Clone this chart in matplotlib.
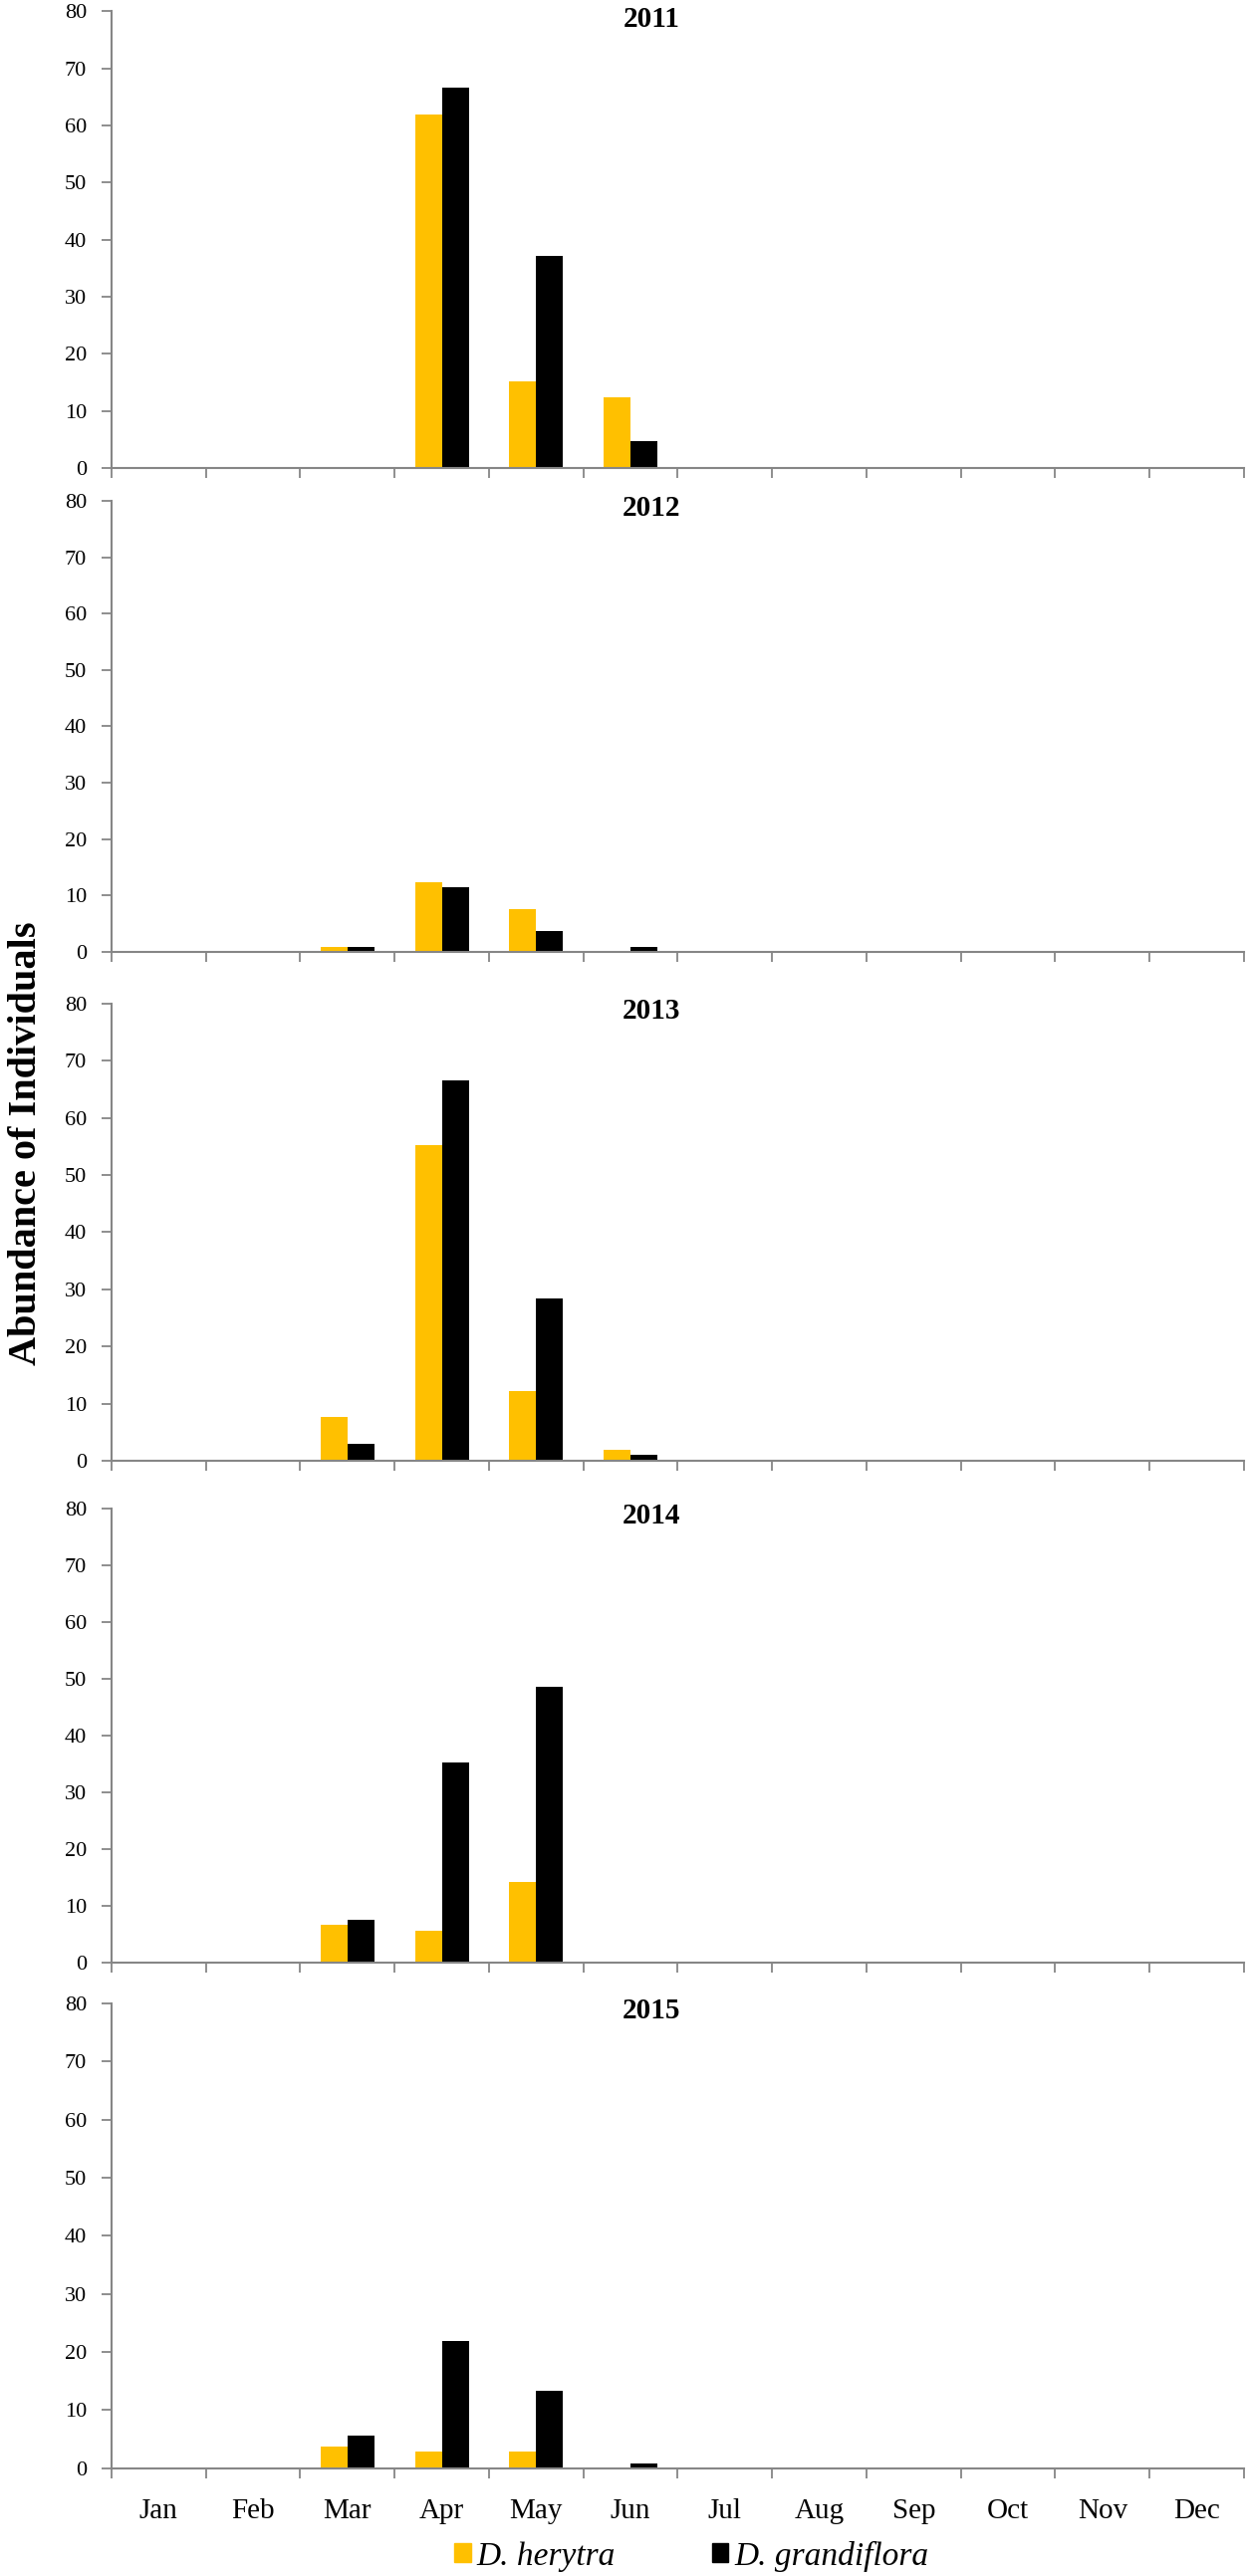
import matplotlib
matplotlib.use("Agg")
import matplotlib.pyplot as plt
from matplotlib.patches import Patch
import numpy as np

months = ['Jan', 'Feb', 'Mar', 'Apr', 'May', 'Jun',
          'Jul', 'Aug', 'Sep', 'Oct', 'Nov', 'Dec']
years = ['2011', '2012', '2013', '2014', '2015']

# D. herytra (yellow) per month, one list per year
herytra_2011 = [0, 0, 0, 62.0, 15.2, 12.4, 0, 0, 0, 0, 0, 0]
herytra_2012 = [0, 0, 0.8, 12.4, 7.5, 0, 0, 0, 0, 0, 0, 0]
herytra_2013 = [0, 0, 7.6, 55.3, 12.2, 1.9, 0, 0, 0, 0, 0, 0]
herytra_2014 = [0, 0, 6.7, 5.7, 14.3, 0, 0, 0, 0, 0, 0, 0]
herytra_2015 = [0, 0, 3.8, 2.9, 2.9, 0, 0, 0, 0, 0, 0, 0]

# D. grandiflora (black)
grandi_2011 = [0, 0, 0, 66.7, 37.2, 4.8, 0, 0, 0, 0, 0, 0]
grandi_2012 = [0, 0, 0.8, 11.4, 3.7, 0.8, 0, 0, 0, 0, 0, 0]
grandi_2013 = [0, 0, 2.9, 66.5, 28.5, 1.0, 0, 0, 0, 0, 0, 0]
grandi_2014 = [0, 0, 7.6, 35.3, 48.6, 0, 0, 0, 0, 0, 0, 0]
grandi_2015 = [0, 0, 5.7, 21.9, 13.3, 0.9, 0, 0, 0, 0, 0, 0]

herytra = [herytra_2011, herytra_2012, herytra_2013, herytra_2014, herytra_2015]
grandi = [grandi_2011, grandi_2012, grandi_2013, grandi_2014, grandi_2015]

YELLOW = '#FFC000'
GREY = '#868686'
serif = 'Liberation Serif'

fig = plt.figure(figsize=(12.51, 25.87), dpi=100)

# panel extents (bottom, top) in figure fraction
panels = [(0.8183, 0.9956), (0.6305, 0.8056), (0.4329, 0.6104),
          (0.2381, 0.4144), (0.0418, 0.2223)]
left, right = 0.0895, 0.9984

x = np.arange(len(months))
w = 0.286

for i, (yr, (b, t)) in enumerate(zip(years, panels)):
    ax = fig.add_axes([left, b, right - left, t - b])
    ax.bar(x - w / 2, herytra[i], width=w, color=YELLOW, linewidth=0)
    ax.bar(x + w / 2, grandi[i], width=w, color='black', linewidth=0)
    ax.set_xlim(-0.5, 11.5)
    ax.set_ylim(0, 80)
    ax.set_yticks(range(0, 81, 10))
    ax.set_xticks(np.arange(-0.5, 12, 1))
    ax.set_xticklabels([])
    ax.set_xticks(x, minor=True)
    ax.tick_params(axis='x', which='minor', length=0)
    if i == len(years) - 1:
        ax.set_xticklabels(months, minor=True, fontsize=21, family=serif)
        ax.tick_params(axis='x', which='minor', pad=22)
    for s in ['top', 'right']:
        ax.spines[s].set_visible(False)
    for s in ['left', 'bottom']:
        ax.spines[s].set_color(GREY)
        ax.spines[s].set_linewidth(1.5)
    ax.tick_params(axis='both', which='major', color=GREY, width=1.3,
                   length=7, direction='out')
    ax.tick_params(axis='y', labelsize=16, pad=11)
    for lab in ax.get_yticklabels():
        lab.set_family(serif)
    ax.text(0.477, 1.012, yr, transform=ax.transAxes, ha='center', va='top',
            fontsize=21, fontweight='bold', family=serif)

fig.text(0.021, 0.556, 'Abundance of Individuals', rotation=90,
         ha='center', va='center', fontsize=29, fontweight='bold', family=serif)

handles = [Patch(color=YELLOW, label='D. herytra'),
           Patch(color='black', label='D. grandiflora')]
fig.legend(handles=handles, loc='center', bbox_to_anchor=(0.555, 0.0077),
           ncol=2, frameon=False, handlelength=0.5, handleheight=0.5,
           handletextpad=0.18, columnspacing=2.9, borderpad=0,
           prop={'family': serif, 'style': 'italic', 'size': 24})

fig.savefig('out.png', dpi=100)
